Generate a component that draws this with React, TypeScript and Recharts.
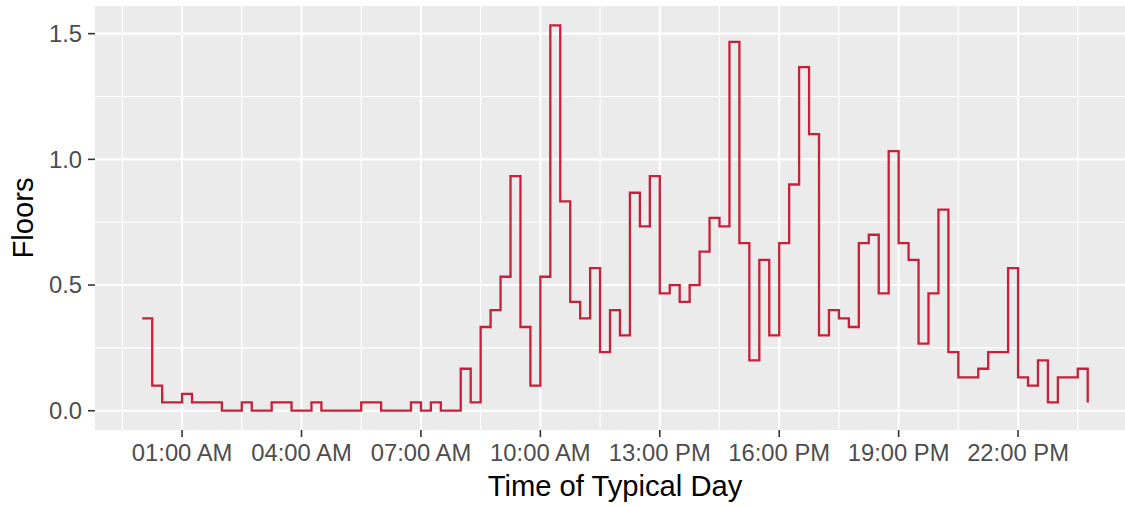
import React from "react";
import {
  LineChart,
  Line,
  XAxis,
  YAxis,
  CartesianGrid,
  Label,
} from "recharts";

// average floors climbed per 15-minute slot, starting at 00:00
const floors = [
  0.367, 0.1, 0.033, 0.033, 0.067, 0.033, 0.033, 0.033,
  0, 0, 0.033, 0, 0, 0.033, 0.033, 0,
  0, 0.033, 0, 0, 0, 0, 0.033, 0.033,
  0, 0, 0, 0.033, 0, 0.033, 0, 0,
  0.167, 0.033, 0.333, 0.4, 0.533, 0.933, 0.333, 0.1,
  0.533, 1.533, 0.833, 0.433, 0.367, 0.567, 0.233, 0.4,
  0.3, 0.867, 0.733, 0.933, 0.467, 0.5, 0.433, 0.5,
  0.633, 0.767, 0.733, 1.467, 0.667, 0.2, 0.6, 0.3,
  0.667, 0.9, 1.367, 1.1, 0.3, 0.4, 0.367, 0.333,
  0.667, 0.7, 0.467, 1.033, 0.667, 0.6, 0.267, 0.467,
  0.8, 0.233, 0.133, 0.133, 0.167, 0.233, 0.233, 0.567,
  0.133, 0.1, 0.2, 0.033, 0.133, 0.133, 0.167, 0.033,
];

const xTicks = [1, 4, 7, 10, 13, 16, 19, 22];
const xTickLabels = [
  "01:00 AM",
  "04:00 AM",
  "07:00 AM",
  "10:00 AM",
  "13:00 PM",
  "16:00 PM",
  "19:00 PM",
  "22:00 PM",
];
const xMinor = [-0.5, 2.5, 5.5, 8.5, 11.5, 14.5, 17.5, 20.5, 23.5];
const yTicks = [0, 0.5, 1, 1.5];
const yTickLabels = ["0.0", "0.5", "1.0", "1.5"];
const yMinor = [0.25, 0.75, 1.25];

const data = floors.map((v, i) => ({ hour: i * 0.25, floors: v }));

const FONT = "'Liberation Sans', Arial, Helvetica, sans-serif";

const XTick = (props: any) => {
  const { x, payload } = props;
  const idx = xTicks.indexOf(payload.value);
  return (
    <text
      x={x}
      y={461}
      textAnchor="middle"
      fill="#4D4D4D"
      fontSize={23.8}
      fontFamily={FONT}
    >
      {xTickLabels[idx]}
    </text>
  );
};

const YTick = (props: any) => {
  const { y, payload } = props;
  const idx = yTicks.indexOf(payload.value);
  return (
    <text
      x={82}
      y={y + 8.4}
      textAnchor="end"
      fill="#4D4D4D"
      fontSize={23.8}
      fontFamily={FONT}
    >
      {yTickLabels[idx]}
    </text>
  );
};

export default function App() {
  return (
    <div
      style={{
        position: "absolute",
        left: 0,
        top: 0,
        width: 1125,
        height: 508,
        overflow: "hidden",
        background: "#fff",
      }}
    >
      <LineChart
        width={1140}
        height={508}
        data={data}
        margin={{ top: 6, right: 5, left: 0, bottom: 0 }}
      >
        <CartesianGrid
          fill="#EBEBEB"
          stroke="#FFFFFF"
          strokeWidth={1.1}
          horizontalValues={yMinor}
          verticalValues={xMinor}
        />
        <CartesianGrid
          stroke="#FFFFFF"
          strokeWidth={2.1}
          horizontalValues={yTicks}
          verticalValues={xTicks}
        />
        <XAxis
          dataKey="hour"
          type="number"
          domain={[-1.1875, 24.9375]}
          allowDataOverflow
          ticks={xTicks}
          interval={0}
          height={78}
          axisLine={false}
          tickSize={7}
          tickLine={{ stroke: "#333333", strokeWidth: 1.6 }}
          tick={<XTick />}
        >
          <Label
            content={() => (
              <text
                x={615}
                y={496}
                textAnchor="middle"
                fill="#000"
                fontSize={29.2}
                fontFamily={FONT}
              >
                Time of Typical Day
              </text>
            )}
          />
        </XAxis>
        <YAxis
          type="number"
          domain={[-0.0767, 1.61]}
          allowDataOverflow
          ticks={yTicks}
          interval={0}
          width={95}
          axisLine={false}
          tickSize={7}
          tickLine={{ stroke: "#333333", strokeWidth: 1.6 }}
          tick={<YTick />}
        >
          <Label
            content={() => (
              <text
                x={33}
                y={218}
                transform="rotate(-90, 33, 218)"
                textAnchor="middle"
                fill="#000"
                fontSize={29.2}
                fontFamily={FONT}
              >
                Floors
              </text>
            )}
          />
        </YAxis>
        <Line
          type="stepAfter"
          dataKey="floors"
          stroke="#C8203A"
          strokeWidth={2.3}
          dot={false}
          activeDot={false}
          isAnimationActive={false}
        />
      </LineChart>
    </div>
  );
}
